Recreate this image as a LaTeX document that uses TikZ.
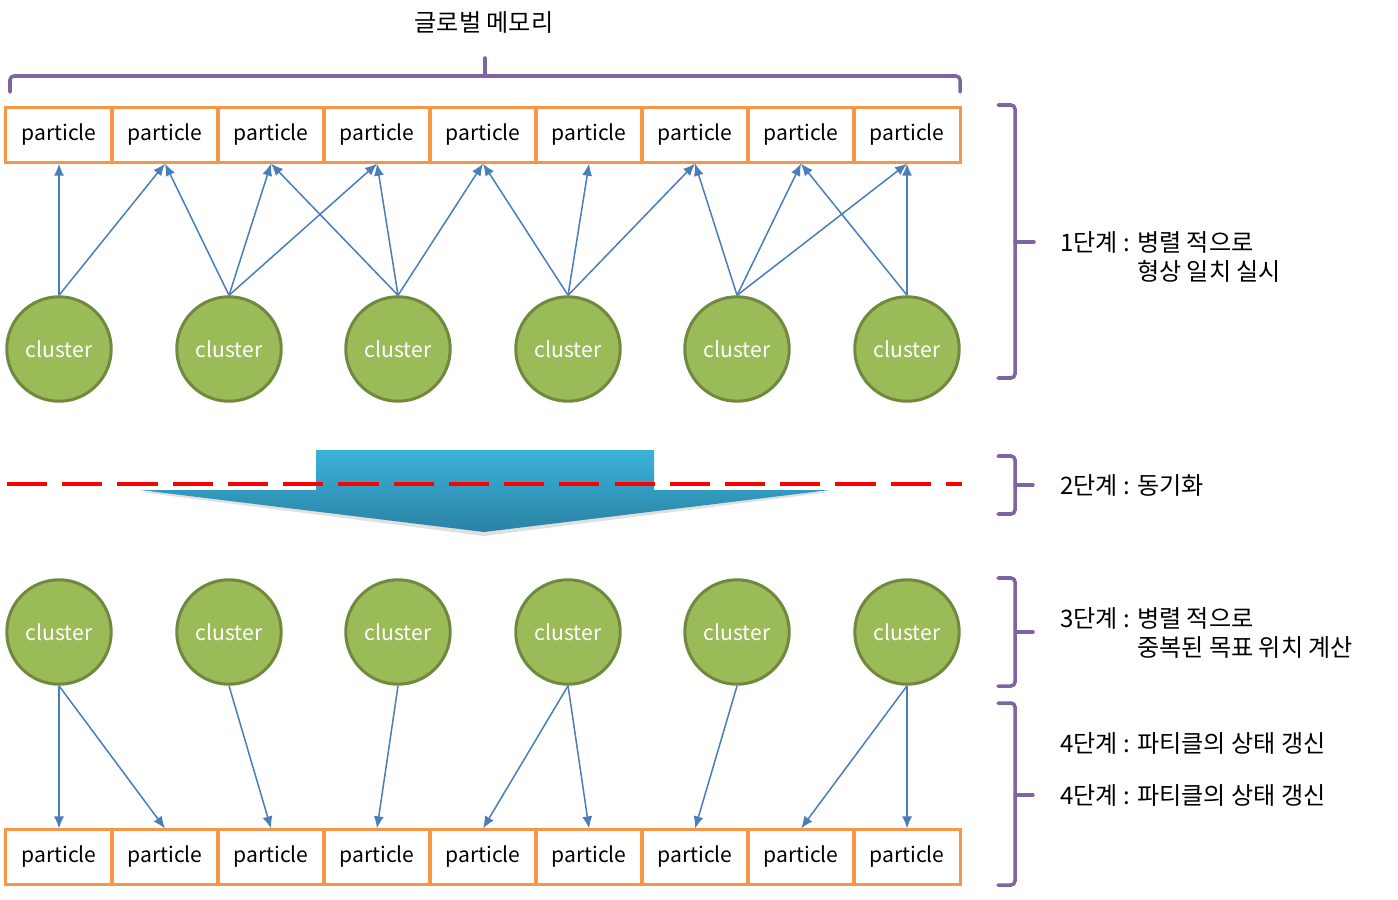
\documentclass[tikz,border=0pt]{standalone}
\usepackage{fontspec}
\setmainfont{Noto Sans CJK KR}
\usetikzlibrary{arrows.meta}
\definecolor{partorange}{HTML}{F79646}
\definecolor{clfill}{HTML}{9BBB59}
\definecolor{cldraw}{HTML}{71893F}
\definecolor{linkblue}{HTML}{4A7EBB}
\definecolor{bracepurple}{HTML}{8064A2}
\definecolor{arrowtop}{HTML}{3AB3DA}
\definecolor{arrowbot}{HTML}{2A82A3}
\begin{document}
\begin{tikzpicture}[scale=0.35,
  particle/.style={draw=partorange, line width=3pt, minimum width=105.6pt, minimum height=54pt, inner sep=0pt, font=\fontsize{21}{25}\selectfont},
  cluster/.style={circle, draw=cldraw, fill=clfill, line width=3pt, minimum size=104pt, inner sep=0pt, text=white, font=\fontsize{21}{25}\selectfont},
  link/.style={linkblue, line width=1.5pt, -{Latex[length=12pt,width=10pt]}},
  brace/.style={bracepurple, line width=3.5pt, rounded corners=4pt, line cap=round},
  steptext/.style={anchor=west, inner sep=0pt, align=left, font=\fontsize{24}{28}\selectfont}]
\useasboundingbox (0,0) rectangle (139.8,-90.0);
\node (memlabel) at (48.4,-2.2) [font=\fontsize{24}{28}\selectfont] {글로벌 메모리};
\draw [brace] (1.0,-9.2) -- (1.0,-7.6) -- (96.0,-7.6) -- (96.0,-9.2);
\draw [brace] (48.5,-7.6) -- (48.5,-5.8);
\node [particle] (p1) at (5.9,-13.5) {particle};
\node [particle] (p2) at (16.5,-13.5) {particle};
\node [particle] (p3) at (27.1,-13.5) {particle};
\node [particle] (p4) at (37.7,-13.5) {particle};
\node [particle] (p5) at (48.3,-13.5) {particle};
\node [particle] (p6) at (58.9,-13.5) {particle};
\node [particle] (p7) at (69.5,-13.5) {particle};
\node [particle] (p8) at (80.1,-13.5) {particle};
\node [particle] (p9) at (90.7,-13.5) {particle};
\node [cluster] (c1) at (5.9,-34.9) {cluster};
\node [cluster] (c2) at (22.9,-34.9) {cluster};
\node [cluster] (c3) at (39.8,-34.9) {cluster};
\node [cluster] (c4) at (56.8,-34.9) {cluster};
\node [cluster] (c5) at (73.7,-34.9) {cluster};
\node [cluster] (c6) at (90.7,-34.9) {cluster};
\draw [link] (c1.north) -- (p1.south);
\draw [link] (c1.north) -- (p2.south);
\draw [link] (c2.north) -- (p2.south);
\draw [link] (c2.north) -- (p3.south);
\draw [link] (c2.north) -- (p4.south);
\draw [link] (c3.north) -- (p3.south);
\draw [link] (c3.north) -- (p4.south);
\draw [link] (c3.north) -- (p5.south);
\draw [link] (c4.north) -- (p5.south);
\draw [link] (c4.north) -- (p6.south);
\draw [link] (c4.north) -- (p7.south);
\draw [link] (c5.north) -- (p7.south);
\draw [link] (c5.north) -- (p8.south);
\draw [link] (c5.north) -- (p9.south);
\draw [link] (c6.north) -- (p8.south);
\draw [link] (c6.north) -- (p9.south);
\fill [black!12] (14.0,-49.2) -- (83.0,-49.2) -- (48.4,-53.6) -- cycle;
\shade [top color=arrowtop, bottom color=arrowbot] (31.6,-45.0) -- (65.4,-45.0) -- (65.4,-49.0) -- (83.0,-49.0) -- (48.4,-53.2) -- (14.0,-49.0) -- (31.6,-49.0) -- cycle;
\draw [red, line width=4pt, dash pattern=on 40pt off 15pt] (0.7,-48.4) -- (96.2,-48.4);
\node [cluster] (d1) at (5.9,-63.2) {cluster};
\node [cluster] (d2) at (22.9,-63.2) {cluster};
\node [cluster] (d3) at (39.8,-63.2) {cluster};
\node [cluster] (d4) at (56.8,-63.2) {cluster};
\node [cluster] (d5) at (73.7,-63.2) {cluster};
\node [cluster] (d6) at (90.7,-63.2) {cluster};
\node [particle] (b1) at (5.9,-85.7) {particle};
\node [particle] (b2) at (16.5,-85.7) {particle};
\node [particle] (b3) at (27.1,-85.7) {particle};
\node [particle] (b4) at (37.7,-85.7) {particle};
\node [particle] (b5) at (48.3,-85.7) {particle};
\node [particle] (b6) at (58.9,-85.7) {particle};
\node [particle] (b7) at (69.5,-85.7) {particle};
\node [particle] (b8) at (80.1,-85.7) {particle};
\node [particle] (b9) at (90.7,-85.7) {particle};
\draw [link] (d1.south) -- (b1.north);
\draw [link] (d1.south) -- (b2.north);
\draw [link] (d2.south) -- (b3.north);
\draw [link] (d3.south) -- (b4.north);
\draw [link] (d4.south) -- (b5.north);
\draw [link] (d4.south) -- (b6.north);
\draw [link] (d5.south) -- (b7.north);
\draw [link] (d6.south) -- (b8.north);
\draw [link] (d6.south) -- (b9.north);
\draw [brace] (99.8,-10.5) -- (101.5,-10.5) -- (101.5,-37.8) -- (99.8,-37.8);
\draw [brace] (101.5,-24.2) -- (103.4,-24.2);
\node [steptext] (step1) at (106.0,-25.7) {1단계 : 병렬 적으로\\\phantom{1단계 : }형상 일치 실시};
\draw [brace] (99.8,-45.6) -- (101.5,-45.6) -- (101.5,-51.4) -- (99.8,-51.4);
\draw [brace] (101.5,-48.5) -- (103.3,-48.5);
\node [steptext] (step2) at (106.0,-48.5) {2단계 : 동기화};
\draw [brace] (99.8,-57.8) -- (101.5,-57.8) -- (101.5,-68.6) -- (99.8,-68.6);
\draw [brace] (101.5,-63.2) -- (103.3,-63.2);
\node [steptext] (step3) at (106.0,-63.3) {3단계 : 병렬 적으로\\\phantom{3단계 : }중복된 목표 위치 계산};
\draw [brace] (99.8,-70.3) -- (101.5,-70.3) -- (101.5,-88.5) -- (99.8,-88.5);
\draw [brace] (101.5,-79.5) -- (103.3,-79.5);
\node [steptext] (step4a) at (106.0,-74.3) {4단계 : 파티클의 상태 갱신};
\node [steptext] (step4b) at (106.0,-79.5) {4단계 : 파티클의 상태 갱신};
\end{tikzpicture}
\end{document}
